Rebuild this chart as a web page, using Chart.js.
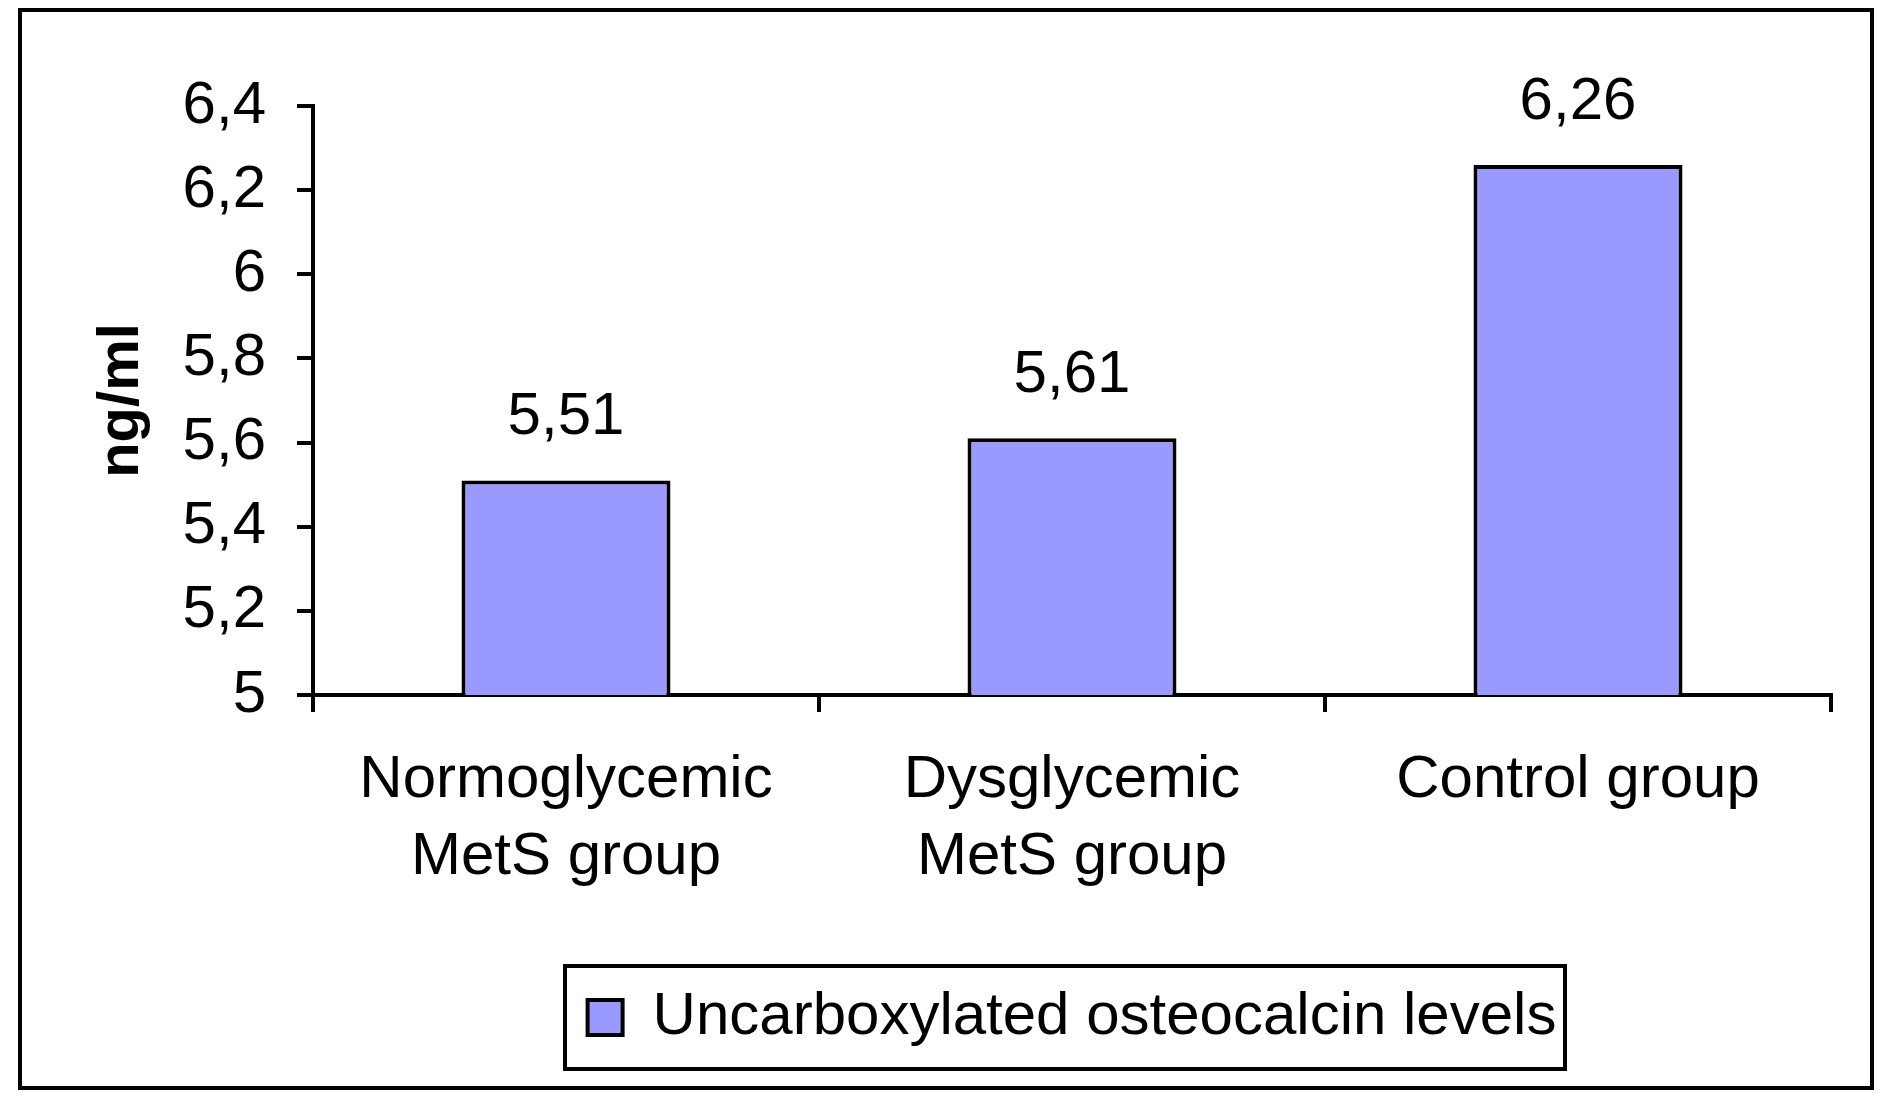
<!DOCTYPE html>
<html>
<head>
<meta charset="utf-8">
<title>Uncarboxylated osteocalcin levels</title>
<script src="https://cdn.jsdelivr.net/npm/chart.js@4.4.0/dist/chart.umd.min.js"></script>
<style>
  html, body { margin: 0; padding: 0; background: #fff; }
  canvas { display: block; }
</style>
</head>
<body>
<canvas id="chart" width="1890" height="1106"></canvas>
<script>
var groupLabels = [["Normoglycemic", "MetS group"], ["Dysglycemic", "MetS group"], "Control group"];
var osteocalcin = [5.51, 5.61, 6.26];
var seriesName = "Uncarboxylated osteocalcin levels";
var yMin = 5, yMax = 6.4, yStep = 0.2;
var yTitle = "ng/ml";

var fontFamily = "'Liberation Sans', Arial, sans-serif";

// decimal comma like the original
function comma(v) {
    return String(Math.round(v * 100) / 100).replace(".", ",");
}

// white background + outer frame
var framePlugin = {
    id: "frame",
    beforeDraw: function(chart) {
        var ctx = chart.ctx;
        ctx.save();
        ctx.fillStyle = "#fff";
        ctx.fillRect(0, 0, chart.width, chart.height);
        ctx.strokeStyle = "#000";
        ctx.lineWidth = 4;
        ctx.strokeRect(20, 10, 1852, 1078);
        ctx.restore();
    }
};

// value above each bar
var valueLabels = {
    id: "valueLabels",
    afterDatasetsDraw: function(chart) {
        var ctx = chart.ctx;
        var meta = chart.getDatasetMeta(0);
        var data = chart.data.datasets[0].data;
        ctx.save();
        ctx.font = "60px " + fontFamily;
        ctx.fillStyle = "#000";
        ctx.textAlign = "center";
        ctx.textBaseline = "alphabetic";
        meta.data.forEach(function(bar, i) {
            ctx.fillText(comma(data[i]), bar.x, bar.y - 46);
        });
        ctx.restore();
    }
};

// center the legend under the plot area and put a box round it
var legendBox = {
    id: "legendBox",
    afterLayout: function(chart) {
        chart.legend.left = chart.chartArea.left;
        chart.legend.right = chart.chartArea.right;
    },
    afterDraw: function(chart) {
        var hb = chart.legend.legendHitBoxes[0];
        if (!hb) return;
        var ctx = chart.ctx;
        ctx.save();
        ctx.strokeStyle = "#000";
        ctx.lineWidth = 4;
        ctx.strokeRect(Math.round(hb.left - 23), Math.round(hb.top - 22), Math.round(hb.width + 31), Math.round(hb.height + 43));
        ctx.restore();
    }
};

var ctx = document.getElementById("chart").getContext("2d");
var myChart = new Chart(ctx, {
    type: "bar",
    data: {
        labels: groupLabels,
        datasets: [{
            label: seriesName,
            data: osteocalcin,
            backgroundColor: "#9999FF",
            borderColor: "#000",
            borderWidth: 4,
            barPercentage: 0.413,
            categoryPercentage: 1
        }]
    },
    options: {
        responsive: false,
        animation: false,
        layout: {
            padding: { top: 106, right: 59, bottom: 48.5, left: 0 }
        },
        plugins: {
            legend: {
                position: "bottom",
                labels: {
                    font: { family: fontFamily, size: 60 },
                    color: "#000",
                    boxWidth: 35,
                    boxHeight: 35,
                    padding: 10
                }
            },
            tooltip: { enabled: false }
        },
        scales: {
            x: {
                grid: {
                    offset: true,
                    drawOnChartArea: false,
                    tickLength: 17,
                    color: "#000",
                    lineWidth: 4
                },
                border: { color: "#000", width: 4 },
                ticks: {
                    font: { family: fontFamily, size: 60, lineHeight: 1.283 },
                    color: "#000",
                    padding: 30,
                    maxRotation: 0,
                    autoSkip: false
                },
                afterFit: function(scale) { scale.height = 282.5; }
            },
            y: {
                min: yMin,
                max: yMax,
                grid: {
                    drawOnChartArea: false,
                    tickLength: 16,
                    color: "#000",
                    lineWidth: 4
                },
                border: { color: "#000", width: 4 },
                ticks: {
                    stepSize: yStep,
                    font: { family: fontFamily, size: 60 },
                    color: "#000",
                    padding: 31,
                    callback: function(v) { return comma(v); }
                },
                title: {
                    display: true,
                    text: yTitle,
                    font: { family: fontFamily, size: 58, weight: "bold" },
                    color: "#000",
                    padding: { top: 87, bottom: 0 }
                },
                afterFit: function(scale) { scale.width = 313; }
            }
        }
    },
    plugins: [framePlugin, valueLabels, legendBox]
});
</script>
</body>
</html>
